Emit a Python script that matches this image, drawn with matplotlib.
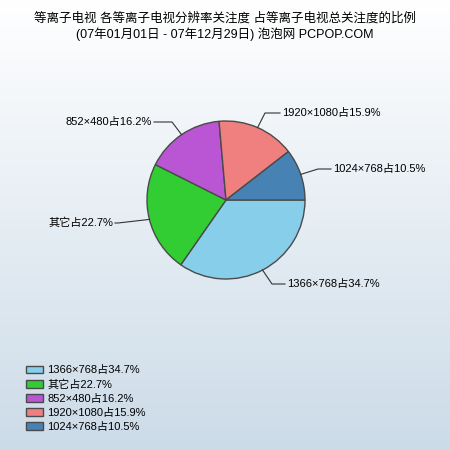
import matplotlib.pyplot as plt
import numpy as np

plt.rcParams['font.family'] = ['Liberation Sans', 'Noto Sans CJK SC', 'DejaVu Sans']

labels = ['1366×768', '其它', '852×480', '1920×1080', '1024×768']
shares = [34.7, 22.7, 16.2, 15.9, 10.5]
colors = ['#87ceeb', '#32cd32', '#ba55d3', '#f08080', '#4682b4']
title1 = '等离子电视 各等离子电视分辨率关注度 占等离子电视总关注度的比例'
title2 = '(07年01月01日 - 07年12月29日) 泡泡网 PCPOP.COM'

fig = plt.figure(figsize=(4.5, 4.5), dpi=100)
# background gradient
bg = fig.add_axes([0, 0, 1, 1], zorder=0)
grad = np.linspace(0, 1, 256).reshape(-1, 1)
top = np.array([1.0, 1.0, 1.0])
bot = np.array([0.80, 0.86, 0.91])
img = top + (bot - top) * grad[:, :, None]
bg.imshow(img, aspect='auto', extent=[0, 1, 0, 1])
bg.axis('off')

ax = fig.add_axes([0, 0, 1, 1], zorder=1)
ax.axis('off')
ax.patch.set_alpha(0)

cx, cy, r = 226, 250, 79
wedges, _ = ax.pie(shares, colors=colors, center=(cx, cy), radius=r,
                   startangle=0, counterclock=False,
                   wedgeprops=dict(edgecolor='#4a4a4a', linewidth=1))
ax.set_aspect('equal')
ax.set_xlim(0, 450)
ax.set_ylim(0, 450)

# label text positions (pixels, y from top) and side
label_pos = [(285, 284, 'left'), (115, 223, 'right'), (154, 122, 'right'),
             (280, 113, 'left'), (331, 169, 'left')]
elbow = [(272, 284), (118, 223), (172, 122), (265, 113), (318, 169)]
for w, lab, s, (tx, ty, ha), (ex, ey) in zip(wedges, labels, shares, label_pos, elbow):
    ang = np.deg2rad((w.theta1 + w.theta2) / 2)
    px, py = cx + r * np.cos(ang), cy + r * np.sin(ang)
    ax.plot([px, ex, tx], [py, 450 - ey, 450 - ty], color='#333333', lw=0.8)
    ax.text(tx + (2 if ha == 'left' else -2), 450 - ty, f'{lab}占{s}%',
            ha=ha, va='center', fontsize=8, color='black')

fig.text(0.5, 1 - 18 / 450, title1, ha='center', va='center', fontsize=9)
fig.text(0.5, 1 - 34 / 450, title2, ha='center', va='center', fontsize=9)

leg = ax.legend(wedges, [f'{l}占{s}%' for l, s in zip(labels, shares)],
                loc='upper left', bbox_to_anchor=(22 / 450, 1 - 361 / 450),
                frameon=False, fontsize=8, handlelength=1.5, handleheight=0.7,
                labelspacing=0.35, handletextpad=0.4, borderaxespad=0)

fig.savefig('out.png', dpi=100)
